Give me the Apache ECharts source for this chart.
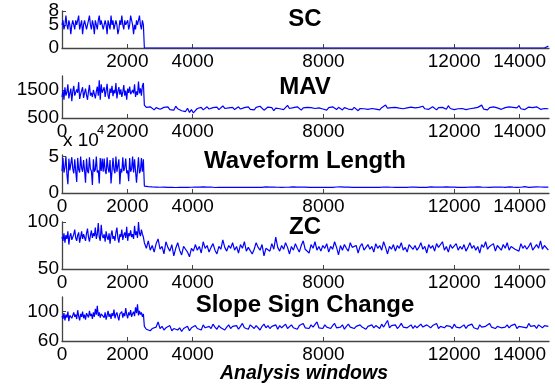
<!DOCTYPE html>
<html>
<head>
<meta charset="utf-8">
<script src="https://cdn.jsdelivr.net/npm/echarts@6/dist/echarts.min.js"></script>
<style>
  html, body { margin: 0; background: #fff; }
  #chart { width: 555px; height: 385px; }
</style>
</head>
<body>
<div id="chart"></div>
<script>
// before the drop: one value every 30 windows (0..2490); after: every 60 windows from 2520
const beforeStep = 30;
const afterStart = 2520;
const afterStep = 60;
const xTicks = [0, 2000, 4000, 8000, 12000, 14000];
const titles = ["SC", "MAV", "Waveform Length", "ZC", "Slope Sign Change"];
const xName = "Analysis windows";

// SC
const scBefore = [5,6,4,5,7,5,4,6,5,3, 5,6,5,4,6,5,5,7,4,5, 6,3,5,6,5,4,5,6,7,5, 4,6,5,3,6,5,4,6,7,5, 6,5,
  4,5,6,5,3,6,5,4,7,5, 6,4,5,6,5,3,4,6,5,7, 5,4,6,5,5,6,4,5,7,6, 5,3,5,4,6,5,6,7,5,4, 6,5];
const scAfter = [
  0,0,0,0,0,0,0,0,0,0,0,0,0,0,0,0,0,0,0,0,0,0,0,
  0,0,0,0,0,0,0,0,0,0,0,0,0,0,0,0,0,0,0,0,0,0,0,
  0,0,0,0,0,0,0,0,0,0,0,0,0,0,0,0,0,0,0,0,0,0,0,
  0,0,0,0,0,0,0,0,0,0,0,0,0,0,0,0,0,0,0,0,0,0,0,
  0,0,0,0,0,0,0,0,0,0,0,0,0,0,0,0,0,0,0,0,0,0,0,
  0,0,0,0,0,0,0,0,0,0,0,0,0,0,0,0,0,0,0,0,0,0,0,
  0,0,0,0,0,0,0,0,0,0,0,0,0,0,0,0,0,0,0,0,0,0,0,
  0,0,0,0,0.4,0,0,0,0,0,0,0,0,0,0,0,0,0,0,0,0,0,0,
  0,0,0,0,0,0,0,0,0,0,0,0,0,0,0,0,0,0,0,0,0,0,0.4
];
const scTicks = [0, 5, 8];

// MAV
const mavBefore = [1250,1500,1150,1600,1300,1420,1700,1200,1380,1550, 1100,1450,1650,1300,1250,1520,1400,1780,1180,1350,
  1480,1600,1220,1400,1550,1320,1150,1450,1680,1300, 1400,1250,1500,1350,1200,1450,1620,1300,1850,1150, 1700,1400,
  1350,1600,1250,1480,1720,1300,1180,1550,1400,1650, 1280,1500,1380,1750,1200,1450,1600,1330,1520,1250,
  1420,1680,1300,1480,1150,1550,1400,1620,1350,1280, 1500,1380,1700,1250,1450,1320,1800,1380,1560,1300, 1650,1750];
const mavAfter = [
  960,880,820,900,850,790,870,930,810,760,880,840,900,800,850,780,920,830,870,760,810,730,850,
  700,800,680,760,840,810,880,790,850,900,820,760,870,830,890,800,860,930,840,780,860,820,880,
  800,850,900,820,760,870,840,900,810,860,790,880,830,920,850,780,840,890,820,870,760,850,900,
  830,880,800,860,950,840,790,870,820,900,850,780,860,830,880,810,870,920,840,800,860,890,820,
  850,780,870,830,900,860,800,880,840,790,870,930,820,860,800,880,850,760,840,900,830,870,810,
  880,840,900,820,860,790,870,830,960,850,800,870,840,880,810,850,900,830,780,860,840,890,820,
  860,800,880,850,920,830,870,810,860,900,840,790,870,830,880,850,810,940,840,870,800,860,830,
  890,840,860,800,870,830,900,850,810,880,840,960,820,860,790,870,840,900,830,860,880,810,850,
  870,830,900,840,880,810,860,940,830,870,800,850,890,840,870,820,900,850,810,870,840,880,830
];
const mavTicks = [500, 1500];

// Waveform Length
const wlBefore = [30000,48000,28000,35000,50000,26000,12000,47000,31000,29000, 49000,33000,27000,46000,30000,15000,48000,32000,28000,50000,
  34000,29000,45000,31000,14000,47000,30000,27000,49000,33000, 30000,11000,46000,29000,32000,50000,28000,31000,13000,48000, 30000,47000,
  29000,47000,31000,26000,49000,34000,28000,45000,13000,30000, 48000,32000,27000,50000,29000,31000,46000,12000,33000,28000,
  49000,30000,35000,47000,27000,31000,16000,48000,29000,33000, 50000,28000,46000,30000,14000,32000,49000,27000,31000,48000, 29000,46000];
const wlAfter = [
  9500,9000,8600,8800,8300,8700,8100,8500,7900,8400,8000,8600,7700,8200,7800,8300,7500,8000,7700,7200,7900,7400,7800,
  7300,7900,7500,8100,7600,8000,7700,8300,7800,8100,7600,8200,7900,7500,8000,7800,8400,7700,8100,7900,8300,7600,8000,
  7800,8200,7700,8500,7900,8100,7600,8000,7800,8300,7700,8100,7900,8200,7600,8000,8400,7800,8100,7700,8000,8300,7900,
  8100,7700,8200,7900,8600,8000,7800,8300,7600,8100,7900,8200,7700,8000,8400,7800,8100,7600,8300,7900,8000,7700,8200,
  7900,8100,7800,8300,7700,8000,8200,7800,8500,7900,8100,7600,8000,8300,7800,8100,7900,8200,7700,8400,7900,8000,7800,
  8200,7800,8100,7900,8300,7700,8000,8200,7800,8100,8600,7900,8000,7800,8200,7700,8100,7900,8300,7800,8000,8200,7900,
  8000,8300,7800,8100,7900,8200,7700,8000,8400,7800,8100,7900,8200,8700,8000,7800,8300,7900,8100,7700,8000,8200,7800,
  8100,7900,8300,7800,8000,8200,7700,8100,7900,8400,7800,8000,8200,7900,8100,7700,8300,8000,7800,8100,7900,8200,8000,
  7800,8100,8300,7900,8000,8500,7800,8100,7900,8200,8600,8000,7800,8300,8100,7900,8400,8000,8200,7800,8100,7900,8000
];
const wlTicks = [0, 50000];

// ZC
const zcBefore = [84,80,88,78,86,82,90,76,85,88, 81,79,87,92,83,80,86,89,78,84, 90,82,87,85,80,88,93,84,79,86, 91,83,88,85,94,82,87,99,84,80, 97,86,
  83,87,79,90,84,81,88,77,86,91, 82,85,80,89,94,83,78,87,84,92, 81,86,89,83,95,80,88,85,91,84, 87,82,96,86,90,83,100,88,85,92, 87,84];
const zcAfter = [
  78,72,80,70,75,68,77,82,71,74,66,79,73,69,76,64,72,78,70,65,74,71,68,
  63,72,69,76,70,74,67,79,72,75,68,73,77,70,66,74,71,81,73,69,75,72,78,
  70,74,67,76,72,79,69,73,75,66,71,78,73,70,76,64,72,74,69,77,71,84,73,
  69,75,71,78,73,66,74,70,77,72,68,75,80,71,73,67,76,72,79,70,74,69,75,
  72,77,68,74,71,79,73,65,75,70,76,72,69,78,73,71,75,67,74,77,70,73,76,
  71,74,68,77,72,75,70,79,73,66,74,71,76,69,75,72,78,70,73,68,76,74,71,
  75,70,73,78,71,74,67,76,72,75,69,77,73,71,79,70,74,68,76,72,73,77,70,
  74,71,76,69,73,78,72,75,70,74,67,76,73,79,71,74,72,77,69,75,73,70,76,
  72,78,70,74,76,71,73,69,77,72,75,71,74,78,70,73,76,72,80,71,75,73,70
];
const zcTicks = [50, 100];

// Slope Sign Change
const sscBefore = [94,90,98,88,96,92,100,87,95,97, 91,89,99,93,96,90,102,94,88,97, 93,100,91,96,89,98,95,92,101,94, 97,90,99,93,104,96,108,94,99,92, 97,95,
  96,92,99,89,95,101,93,97,90,98, 94,103,91,96,99,93,88,97,95,100, 92,98,94,105,96,91,99,95,102,93, 97,100,94,106,98,110,95,101,96,99, 93,97];
const sscAfter = [
  80,76,78,74,77,75,79,86,77,80,75,78,76,81,74,77,79,75,78,73,77,76,80,
  74,78,76,81,77,79,75,82,78,76,80,77,83,79,76,81,78,80,75,79,82,77,80,
  78,81,76,80,84,78,79,76,82,80,77,81,79,75,80,83,78,81,77,80,79,82,76,
  81,78,80,83,77,79,82,78,80,76,81,79,84,78,80,77,82,79,81,86,78,80,77,
  82,79,80,77,81,84,78,80,79,82,76,80,83,79,81,77,80,78,82,79,81,76,80,
  79,82,78,81,80,77,83,79,80,88,78,81,79,82,77,80,84,79,81,78,80,82,77,
  81,78,80,83,79,77,82,80,78,81,79,84,77,80,82,78,81,79,80,77,83,79,81,
  78,80,82,77,81,79,83,78,80,76,82,79,81,80,78,84,79,81,77,80,82,78,80,
  79,82,78,81,80,83,77,80,82,79,81,78,84,80,79,81,77,82,80,78,81,79,80
];
const sscTicks = [60, 100];

const font = "Liberation Sans";
const axisColor = "#444";

// turn the before/after arrays into [window, value] pairs
const toPoints = (before, after) =>
  before.map((v, k) => [k * beforeStep, v])
    .concat(after.map((v, k) => [afterStart + k * afterStep, v]));

// layout of the five stacked panels
const panels = [
  { points: toPoints(scBefore, scAfter),   min: 0,   max: 8,     yTicks: scTicks,  top: 11,  height: 37, titleTop: 7,   xLabels: xTicks.slice(1) },
  { points: toPoints(mavBefore, mavAfter), min: 500, max: 2000,  yTicks: mavTicks, top: 76,  height: 42, titleTop: 75,  xLabels: xTicks },
  { points: toPoints(wlBefore, wlAfter),   min: 0,   max: 52000, yTicks: wlTicks,  top: 155, height: 38, titleTop: 149, xLabels: xTicks, scale: 1e4 },
  { points: toPoints(zcBefore, zcAfter),   min: 50,  max: 100,   yTicks: zcTicks,  top: 222, height: 47, titleTop: 215, xLabels: xTicks },
  { points: toPoints(sscBefore, sscAfter), min: 60,  max: 120,   yTicks: sscTicks, top: 297, height: 44, titleTop: 293, xLabels: xTicks }
];

const labelStyle = { fontSize: 19, color: "#000", fontFamily: font, hideOverlap: false };

const yAxes = panels.map((p, i) => ({
  type: "value",
  gridIndex: i,
  min: p.min,
  max: p.max,
  axisLine: { show: true, lineStyle: { color: axisColor, width: 1.3 } },
  axisTick: { show: true, inside: true, length: 4, customValues: p.yTicks, lineStyle: { color: axisColor } },
  axisLabel: Object.assign({
    // each tick label is drawn by its own axis so overlapping ones are all kept
    customValues: p.yTicks.slice(0, 2), margin: 3, showMinLabel: true, showMaxLabel: true,
    formatter: v => String(p.scale ? v / p.scale : v)
  }, labelStyle),
  splitLine: { show: false }
}));
// SC panel: its third label ("8") sits on a label-only axis of the same grid
yAxes.push({
  type: "value",
  gridIndex: 0,
  position: "left",
  min: panels[0].min,
  max: panels[0].max,
  axisLine: { show: false },
  axisTick: { show: false },
  axisLabel: Object.assign({ customValues: scTicks.slice(2), margin: 3, showMaxLabel: true }, labelStyle),
  splitLine: { show: false }
});

const chart = echarts.init(document.getElementById("chart"), null, { renderer: "canvas" });

const option = {
  animation: false,
  backgroundColor: "#fff",
  textStyle: { fontFamily: font },
  title: panels.map((p, i) => ({
    text: titles[i],
    left: 305,
    top: p.titleTop,
    textAlign: "center",
    padding: 0,
    textStyle: { fontFamily: font, fontSize: 24, fontWeight: "bold", color: "#000" }
  })).concat([{
    text: xName,
    left: 304,
    top: 364,
    textAlign: "center",
    padding: 0,
    textStyle: { fontFamily: font, fontSize: 19.5, fontWeight: "bold", fontStyle: "italic", color: "#000" }
  }]),
  grid: panels.map(p => ({
    left: 62, right: 6, top: p.top, height: p.height,
    containLabel: false, outerBoundsMode: "none"
  })),
  xAxis: panels.map((p, i) => ({
    type: "value",
    gridIndex: i,
    min: 0,
    max: 14900,
    axisLine: { show: true, onZero: false, lineStyle: { color: axisColor, width: 1.3 } },
    axisTick: { show: true, inside: true, length: 4, customValues: xTicks, lineStyle: { color: axisColor } },
    axisLabel: Object.assign({ customValues: p.xLabels, margin: 4, formatter: v => String(v) }, labelStyle),
    splitLine: { show: false }
  })),
  yAxis: yAxes,
  series: panels.map((p, i) => ({
    type: "line",
    xAxisIndex: i,
    yAxisIndex: i,
    data: p.points,
    showSymbol: false,
    symbol: "none",
    lineStyle: { color: "#0000ff", width: 1.2 },
    emphasis: { disabled: true }
  })),
  graphic: [
    { type: "text", left: 63, top: 131, style: { text: "x 10", font: "19px " + font, fill: "#000" } },
    { type: "text", left: 97, top: 124, style: { text: "4", font: "13px " + font, fill: "#000" } }
  ]
};

chart.setOption(option);
</script>
</body>
</html>
